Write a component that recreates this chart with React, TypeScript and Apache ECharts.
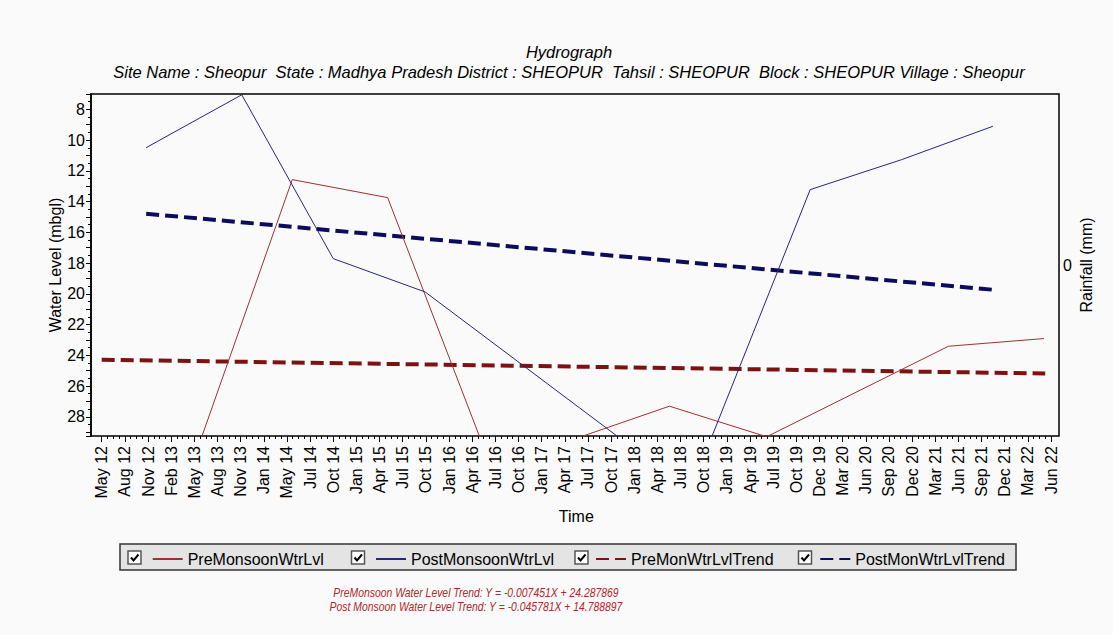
import React, { useEffect, useRef } from "react";
import * as echarts from "echarts";

// Tick labels along the time axis (one per major tick)
const timeLabels = [
  "May 12", "Aug 12", "Nov 12", "Feb 13", "May 13", "Aug 13", "Nov 13", "Jan 14",
  "May 14", "Jul 14", "Oct 14", "Jan 15", "Apr 15", "Jul 15", "Oct 15", "Jan 16",
  "Apr 16", "Jul 16", "Oct 16", "Jan 17", "Apr 17", "Jul 17", "Oct 17", "Jan 18",
  "Apr 18", "Jul 18", "Oct 18", "Jan 19", "Apr 19", "Jul 19", "Oct 19", "Dec 19",
  "Mar 20", "Jun 20", "Sep 20", "Dec 20", "Mar 21", "Jun 21", "Sep 21", "Dec 21",
  "Mar 22", "Jun 22",
];

// Observation positions on the tick scale (tick index, fractional) and depths (m bgl)
const preMonsoonX = [4.1, 8.23, 12.35, 16.4, 20.5, 24.52, 28.72, 36.57, 40.7];
const preMonsoonLevel = [30.25, 12.57, 13.74, 29.6, 29.4, 27.31, 29.3, 23.41, 22.91];

const postMonsoonX = [1.92, 6.05, 10.0, 13.97, 22.3, 25.9, 30.6, 34.55, 38.49];
const postMonsoonLevel = [10.49, 7.05, 17.71, 19.88, 29.3, 31.0, 13.22, 11.27, 9.1];

// Fitted trends (X in months from the first observation)
const preTrendFit = { slope: -0.007451, intercept: 24.287869 };
const postTrendFit = { slope: -0.045781, intercept: 14.788897 };
const preTrendX = [0, 40.75];
const preTrendMonths = [0, 120];
const postTrendX = [1.92, 38.49];
const postTrendMonths = [0, 108];

const trendTexts = [
  "PreMonsoon Water Level Trend: Y = -0.007451X + 24.287869",
  "Post Monsoon Water Level Trend: Y = -0.045781X + 14.788897",
];

const seriesNames = [
  "PreMonsoonWtrLvl",
  "PostMonsoonWtrLvl",
  "PreMonWtrLvlTrend",
  "PostMonWtrLvlTrend",
];

const FONT = "'Liberation Sans', Arial, sans-serif";

const zip = (xs: number[], ys: number[]) => xs.map((x, i) => [x, ys[i]]);
// The printed slope refers to the water table rising; depth below ground moves the other way.
const trendDepth = (fit: { slope: number; intercept: number }, months: number[]) =>
  months.map((m) => +(fit.intercept - fit.slope * m).toFixed(4));

export default function App() {
  const ref = useRef<HTMLDivElement>(null);

  useEffect(() => {
    if (!ref.current) return;
    const chart = echarts.init(ref.current, undefined, { renderer: "svg" });

    const plotLeft = 91;
    const plotTop = 94;
    const plotW = 968;
    const plotH = 342;
    const tickLeft = 101.7;
    const tickRight = 1051;

    const legendLeft = [151.7, 375, 595, 819.3];
    const checkLeft = [128, 351.5, 575, 798.5];
    const legendY = 551;

    const checkboxes: any[] = [];
    checkLeft.forEach((x) => {
      checkboxes.push({
        type: "rect",
        shape: { x, y: legendY, width: 13, height: 13 },
        style: { fill: "#ffffff", stroke: "#555555", lineWidth: 1.5 },
        z: 10,
      });
      checkboxes.push({
        type: "polyline",
        shape: { points: [[x + 3, legendY + 6.5], [x + 5.5, legendY + 9.5], [x + 10.5, legendY + 3.5]] },
        style: { stroke: "#000000", lineWidth: 2, fill: null },
        z: 11,
      });
    });

    const option: any = {
      animation: false,
      backgroundColor: "#fafafa",
      textStyle: { fontFamily: FONT },
      graphic: [
        {
          type: "text",
          x: 569,
          y: 52,
          style: {
            text: "Hydrograph",
            font: `italic 16.5px ${FONT}`,
            fill: "#000",
            textAlign: "center",
            textVerticalAlign: "middle",
          },
        },
        {
          type: "text",
          x: 569,
          y: 72,
          style: {
            text: "Site Name : Sheopur  State : Madhya Pradesh District : SHEOPUR  Tahsil : SHEOPUR  Block : SHEOPUR Village : Sheopur",
            font: `italic 16.5px ${FONT}`,
            fill: "#000",
            textAlign: "center",
            textVerticalAlign: "middle",
          },
        },
        {
          type: "rect",
          shape: { x: 120, y: 544, width: 896, height: 26 },
          style: { fill: "#e4e4e4", stroke: "#333333", lineWidth: 1.5 },
          z: 1,
        },
        ...checkboxes,
        ...trendTexts.map((t, i) => ({
          type: "text",
          x: 476,
          y: 592 + i * 14.5,
          scaleX: 0.8,
          style: {
            text: t,
            font: `italic 13px ${FONT}`,
            fill: "#b02828",
            textAlign: "center",
            textVerticalAlign: "middle",
          },
        })),
      ],
      legend: seriesNames.map((name, i) => ({
        data: [name],
        left: legendLeft[i],
        top: legendY,
        padding: 0,
        itemWidth: 30,
        itemHeight: 14,
        selectedMode: false,
        itemStyle: { opacity: 0 },
        textStyle: { fontSize: 16, color: "#000", fontFamily: FONT },
        z: 12,
      })),
      grid: [
        {
          left: plotLeft,
          top: plotTop,
          width: plotW,
          height: plotH,
          show: true,
          borderColor: "#000",
          borderWidth: 1.5,
          backgroundColor: "transparent",
          outerBoundsMode: "none",
        },
        {
          left: tickLeft,
          top: plotTop,
          width: tickRight - tickLeft,
          height: plotH,
          outerBoundsMode: "none",
        },
      ],
      xAxis: [
        { gridIndex: 0, type: "value", min: 0, max: 1, show: false },
        {
          gridIndex: 1,
          type: "value",
          min: 0,
          max: timeLabels.length - 1,
          interval: 1,
          position: "bottom",
          name: "Time",
          nameLocation: "middle",
          nameGap: 72,
          nameMoveOverlap: false,
          nameTextStyle: { fontSize: 16, color: "#000", fontFamily: FONT },
          axisLine: { show: false },
          axisTick: { show: true, length: 6, lineStyle: { color: "#000", width: 1 } },
          minorTick: { show: true, splitNumber: 4, length: 3, lineStyle: { color: "#000", width: 1 } },
          splitLine: { show: false },
          minorSplitLine: { show: false },
          axisLabel: {
            rotate: 90,
            margin: 10,
            fontSize: 16,
            color: "#000",
            fontFamily: FONT,
            formatter: (v: number) => timeLabels[Math.round(v)] ?? "",
          },
        },
      ],
      yAxis: [
        {
          gridIndex: 0,
          type: "value",
          inverse: true,
          min: 7,
          max: 29.25,
          interval: 1,
          name: "Water Level (mbgl)",
          nameLocation: "middle",
          nameGap: 28,
          nameMoveOverlap: false,
          nameTextStyle: { fontSize: 16, color: "#000", fontFamily: FONT },
          axisLine: { show: true, lineStyle: { color: "#000", width: 1.5 } },
          axisTick: { show: true, length: 5, lineStyle: { color: "#000" } },
          minorTick: { show: true, splitNumber: 2, length: 3, lineStyle: { color: "#000" } },
          splitLine: { show: false },
          axisLabel: {
            margin: 6,
            fontSize: 16,
            color: "#000",
            fontFamily: FONT,
            formatter: (v: number) => (Number.isInteger(v) && v % 2 === 0 ? String(v) : ""),
          },
        },
        {
          gridIndex: 0,
          type: "value",
          position: "right",
          min: -1,
          max: 1,
          interval: 1,
          name: "Rainfall (mm)",
          nameLocation: "middle",
          nameRotate: 90,
          nameGap: 19,
          nameMoveOverlap: false,
          nameTextStyle: { fontSize: 16, color: "#000", fontFamily: FONT },
          axisLine: { show: false },
          axisTick: { show: false },
          splitLine: { show: false },
          axisLabel: {
            margin: 4,
            fontSize: 16,
            color: "#000",
            fontFamily: FONT,
            formatter: (v: number) => (v === 0 ? "0" : ""),
          },
        },
        { gridIndex: 1, type: "value", inverse: true, min: 7, max: 29.25, show: false },
      ],
      series: [
        {
          name: seriesNames[0],
          type: "line",
          xAxisIndex: 1,
          yAxisIndex: 2,
          data: zip(preMonsoonX, preMonsoonLevel),
          symbol: "none",
          color: "#a03030",
          lineStyle: { width: 1, color: "#a03030" },
          z: 3,
        },
        {
          name: seriesNames[1],
          type: "line",
          xAxisIndex: 1,
          yAxisIndex: 2,
          data: zip(postMonsoonX, postMonsoonLevel),
          symbol: "none",
          color: "#26267e",
          lineStyle: { width: 1, color: "#26267e" },
          z: 3,
        },
        {
          name: seriesNames[2],
          type: "line",
          xAxisIndex: 1,
          yAxisIndex: 2,
          data: zip(preTrendX, trendDepth(preTrendFit, preTrendMonths)),
          symbol: "none",
          color: "#7c1212",
          lineStyle: { width: 4, color: "#7c1212", type: [13, 6] },
          z: 2,
        },
        {
          name: seriesNames[3],
          type: "line",
          xAxisIndex: 1,
          yAxisIndex: 2,
          data: zip(postTrendX, trendDepth(postTrendFit, postTrendMonths)),
          symbol: "none",
          color: "#0c0c5e",
          lineStyle: { width: 4, color: "#0c0c5e", type: [13, 6] },
          z: 2,
        },
      ],
    };

    chart.setOption(option);
    return () => chart.dispose();
  }, []);

  return (
    <div
      ref={ref}
      style={{ position: "fixed", left: 0, top: 0, width: 1113, height: 635 }}
    />
  );
}
